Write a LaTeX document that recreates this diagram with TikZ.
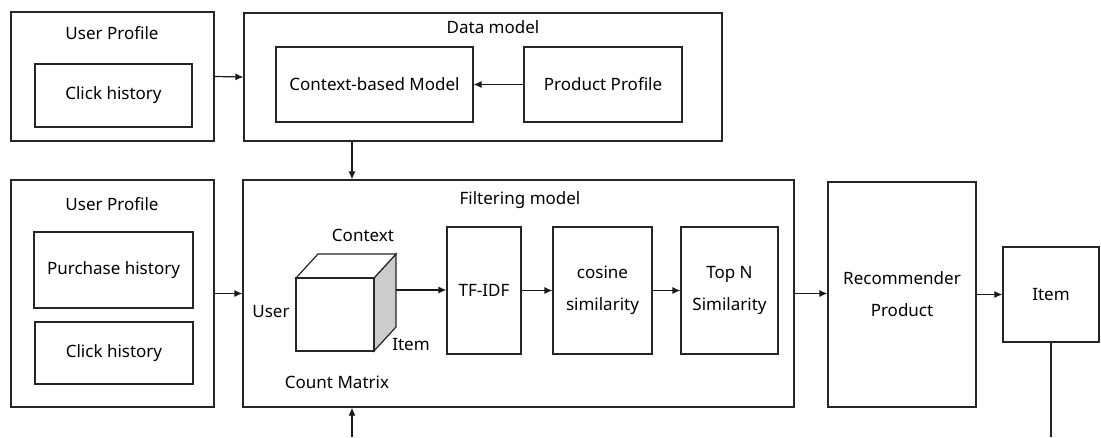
\documentclass[tikz,border=0pt]{standalone}
\usepackage{fontspec}
\setmainfont{Noto Sans}
\usetikzlibrary{arrows.meta}

\tikzset{every picture/.style={line width=1.2pt}}
\tikzset{
  box/.style={draw=black!85, rectangle, inner sep=0pt, align=center, font=\fontsize{17}{32}\selectfont},
  lbl/.style={inner sep=0pt, font=\fontsize{17}{32}\selectfont},
  arr/.style={draw=black!90, -{Latex[length=8pt,width=7pt]}}
}

\begin{document}
\begin{tikzpicture}[x=1pt,y=1pt,yscale=-1,xscale=1]
	\useasboundingbox (0,0) rectangle (1101,437);
	%Shape: Rectangle [id:upone] 
	\node (upone) at (112.5,76.5) [box, minimum width=203, minimum height=129] {};
	%Shape: Rectangle [id:clickone] 
	\node (clickone) at (113.5,95.5) [box, minimum width=157, minimum height=63] {Click history};
	%Shape: Rectangle [id:dmodel] 
	\node (dmodel) at (483,77) [box, minimum width=478, minimum height=128] {};
	%Shape: Rectangle [id:ctxmodel] 
	\node (ctxmodel) at (374.5,84.5) [box, minimum width=197, minimum height=75] {Context-based Model};
	%Shape: Rectangle [id:prodprof] 
	\node (prodprof) at (603,84.5) [box, minimum width=158, minimum height=75] {Product Profile};
	%Shape: Rectangle [id:uptwo] 
	\node (uptwo) at (112.5,293.5) [box, minimum width=203, minimum height=227] {};
	%Shape: Rectangle [id:purchase] 
	\node (purchase) at (113.5,270) [box, minimum width=159, minimum height=76] {Purchase history};
	%Shape: Rectangle [id:clicktwo] 
	\node (clicktwo) at (114,353) [box, minimum width=158, minimum height=62] {Click history};
	%Shape: Rectangle [id:fmodel] 
	\node (fmodel) at (518.5,293.5) [box, minimum width=551, minimum height=227] {};
	%Shape: Rectangle [id:tfidf] 
	\node (tfidf) at (484,290.5) [box, minimum width=74, minimum height=127] {TF-IDF};
	%Shape: Rectangle [id:cosine] 
	\node (cosine) at (602.5,290.5) [box, minimum width=99, minimum height=127] {cosine\\similarity};
	%Shape: Rectangle [id:topn] 
	\node (topn) at (729.5,290.5) [box, minimum width=97, minimum height=127] {Top N\\Similarity};
	%Shape: Rectangle [id:recom] 
	\node (recom) at (902,294.5) [box, minimum width=148, minimum height=225] {Recommender\\Product};
	%Shape: Rectangle [id:item] 
	\node (item) at (1051,294.5) [box, minimum width=96, minimum height=95] {Item};

	%Shape: Cube [id:cube] 
	\draw [draw=black!85, fill=black!20] (374,278) -- (396,254) -- (396,327) -- (374,351) -- cycle ;
	\draw [draw=black!85, fill=white] (296,278) -- (318,254) -- (396,254) -- (374,278) -- cycle ;
	\draw [draw=black!85, fill=white] (296,278) -- (374,278) -- (374,351) -- (296,351) -- cycle ;
	\coordinate (cubeout) at (396,290);
	\coordinate (feedx) at (352,437);

	%Straight Lines [id:arrows] 
	\draw [arr] (upone.east) -- (dmodel.west) ;
	\draw [arr] (prodprof.west) -- (ctxmodel.east) ;
	\draw [arr] (dmodel.south -| feedx) -- (fmodel.north -| feedx) ;
	\draw [arr] (feedx) -- (fmodel.south -| feedx) ;
	\draw [arr] (uptwo.east) -- (fmodel.west) ;
	\draw [arr] (cubeout) -- (tfidf.west |- cubeout) ;
	\draw [arr] (tfidf.east) -- (cosine.west) ;
	\draw [arr] (cosine.east) -- (topn.west) ;
	\draw [arr] (fmodel.east) -- (fmodel.east -| recom.west) ;
	\draw [arr] (recom.east) -- (recom.east -| item.west) ;
	\draw [draw=black!85] (item.south) -- (item.south |- feedx) ;

	% Text Node
	\node (uponetitle) at (112,33) [lbl] {User Profile};
	% Text Node
	\node (uptwotitle) at (112,204) [lbl] {User Profile};
	% Text Node
	\node (dmodeltitle) at (493,27) [lbl] {Data model};
	% Text Node
	\node (fmodeltitle) at (520,200) [lbl] {Filtering model};
	% Text Node
	\node (ctxlbl) at (363,235) [lbl] {Context};
	% Text Node
	\node (userlbl) at (271,312) [lbl] {User};
	% Text Node
	\node (itemlbl) at (411,345) [lbl] {Item};
	% Text Node
	\node (countlbl) at (337,382) [lbl] {Count Matrix};
\end{tikzpicture}
\end{document}
